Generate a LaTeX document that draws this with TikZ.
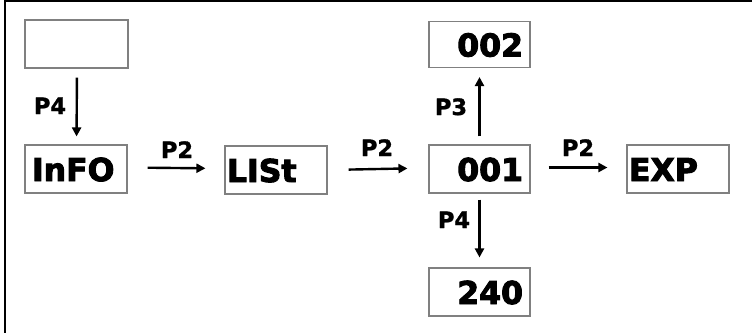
\documentclass[tikz,border=0pt]{standalone}
\usepackage{fontspec}
\setmainfont{DejaVu Sans}
\newfontfamily\heavyfont{DejaVu Sans Bold}[FakeBold=3]
\newfontfamily\labfont{DejaVu Sans Bold}[FakeBold=1.5]
\usetikzlibrary{arrows.meta}
\definecolor{boxgray}{HTML}{808080}
\begin{document}
\begin{tikzpicture}[x=1pt,y=-1pt,
  box/.style={draw=boxgray,line width=1.1pt,minimum height=48pt,inner ysep=0pt,
    font=\fontsize{31.5}{34}\selectfont\heavyfont,text height=24pt,text depth=0pt},
  lbox/.style={box,text width=#1,align=left,inner xsep=2pt},
  rbox/.style={box,text width=#1,align=right,inner xsep=7pt},
  lab/.style={font=\fontsize{22.5}{24}\selectfont\labfont,inner sep=0pt,text height=16pt,text depth=0pt},
  arr/.style={line width=2.4pt,-{Triangle[length=9pt,width=9pt]}}]
\useasboundingbox (0,0) rectangle (752,333);
\draw[line width=1.5pt] (752,0.75) -| (4.75,333);
% boxes
\node[box,minimum width=103pt] (top) at (76.5,44) {};
\node[lbox=88pt,inner xsep=7pt] (info) at (76,169) {InFO};
\node[lbox=98pt] (list) at (276,170) {LISt};
\node[rbox=87pt] (n001) at (479.5,169) {001};
\node[rbox=87pt,minimum height=46pt] (n002) at (479.5,44.5) {002};
\node[rbox=87pt] (n240) at (479.5,292) {240};
\node[lbox=98pt] (exp) at (678,169) {EXP};
% arrows
\draw[arr,shorten <=9pt,shorten >=8pt] ([xshift=0.5pt]top.south) -- ([xshift=0.5pt]info.north);
\draw[arr,shorten <=20pt,shorten >=19pt] ([yshift=1.5pt]info.east) -- ([yshift=1.5pt]list.west);
\draw[arr,shorten <=21pt,shorten >=21pt] (list.east) -- ([yshift=1pt]n001.west);
\draw[arr,shorten <=8pt,shorten >=9pt] (n001.north) -- (n002.south);
\draw[arr,shorten <=6pt,shorten >=10pt] (n001.south) -- (n240.north);
\draw[arr,shorten <=18pt,shorten >=19pt] ([yshift=1.5pt]n001.east) -- ([yshift=1.5pt]exp.west);
% labels
\node[lab] (l1) at (50,106) {P4};
\node[lab] (l2) at (177,150) {P2};
\node[lab] (l3) at (377,148) {P2};
\node[lab] (l4) at (451,107) {P3};
\node[lab] (l5) at (578,148) {P2};
\node[lab] (l6) at (454,220) {P4};
\end{tikzpicture}
\end{document}
